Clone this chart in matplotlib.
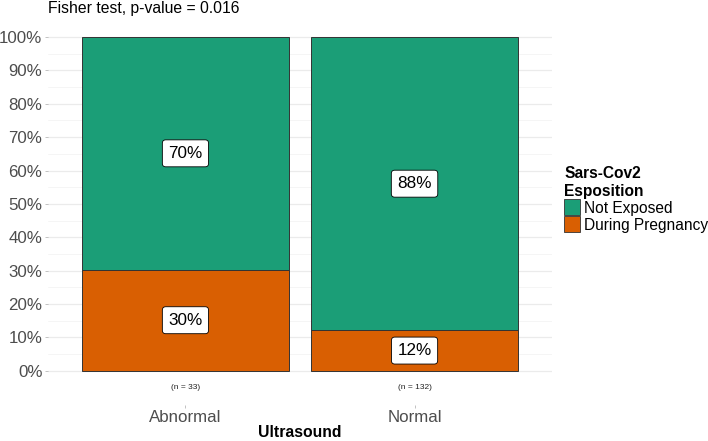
import matplotlib
matplotlib.use("Agg")
import matplotlib.pyplot as plt
from matplotlib.patches import Patch
import numpy as np

plt.rcParams['font.family'] = ['Liberation Sans', 'DejaVu Sans']

# data
categories = ["Abnormal", "Normal"]
not_exposed = [23, 116]
during_pregnancy = [10, 16]
series_names = ["Not Exposed", "During Pregnancy"]
series_colors = ["#1B9E77", "#D95F02"]

totals = np.array(not_exposed) + np.array(during_pregnancy)
p_dp = np.array(during_pregnancy) / totals
p_ne = np.array(not_exposed) / totals

fig = plt.figure(figsize=(7.08, 4.41), dpi=100)
ax = fig.add_axes([48 / 708, 1 - 405 / 441, (552 - 48) / 708, (405 - 19.5) / 441])

x = np.arange(1, len(categories) + 1)
# gridlines
for v in np.arange(0, 1.01, 0.1):
    ax.axhline(v, color="#EBEBEB", lw=0.9, zorder=0)
for v in np.arange(0.05, 1.0, 0.1):
    ax.axhline(v, color="#F2F2F2", lw=0.5, zorder=0)

ax.bar(x, p_dp, width=0.9, color=series_colors[1], edgecolor="#333333", lw=0.7, zorder=2)
ax.bar(x, p_ne, width=0.9, bottom=p_dp, color=series_colors[0], edgecolor="#333333", lw=0.7, zorder=2)

box = dict(boxstyle="round,pad=0.35,rounding_size=0.2", fc="white", ec="black", lw=0.6)
for xi, a, b in zip(x, p_dp, p_ne):
    ax.text(xi, a / 2, f"{a * 100:.0f}%", ha="center", va="center", fontsize=12.3, bbox=box, zorder=3)
    ax.text(xi, a + b / 2, f"{b * 100:.0f}%", ha="center", va="center", fontsize=12.3, bbox=box, zorder=3)

for xi, n in zip(x, totals):
    ax.text(xi, -0.05, f"(n = {n})", ha="center", va="center", fontsize=6, color="#222222")

ax.set_xlim(0.4, 2.6)
ax.set_ylim(-0.1025, 1.0525)
ax.set_yticks(np.arange(0, 1.01, 0.1))
ax.set_yticklabels([f"{int(round(v * 100))}%" for v in np.arange(0, 1.01, 0.1)])
ax.set_xticks(x)
ax.set_xticklabels(categories)
ax.tick_params(axis="both", labelsize=12.2, labelcolor="#4D4D4D", color="#AAAAAA", length=2, width=0.5)
ax.tick_params(axis="x", pad=1.5)
ax.tick_params(axis="y", pad=2)
for s in ax.spines.values():
    s.set_visible(False)

ax.set_xlabel("Ultrasound", fontsize=11.3, fontweight="bold", labelpad=0)
fig.text(48 / 708, 1 - 8 / 441, "Fisher test, p-value = 0.016", fontsize=11.3, ha="left", va="center")

# legend
handles = [Patch(facecolor=c, edgecolor="#333333", lw=0.6) for c in series_colors]
leg = fig.legend(handles, series_names, title="Sars-Cov2\nEsposition", loc="upper left",
                 bbox_to_anchor=(561 / 708, 1 - 163 / 441), frameon=False, fontsize=11.2,
                 title_fontsize=11.2, handlelength=1.0, handleheight=1.2, handletextpad=0.3,
                 labelspacing=0.05, borderaxespad=0, borderpad=0.2)
leg.get_title().set_fontweight("bold")
leg._legend_box.align = "left"

fig.savefig("out.png", dpi=100)
